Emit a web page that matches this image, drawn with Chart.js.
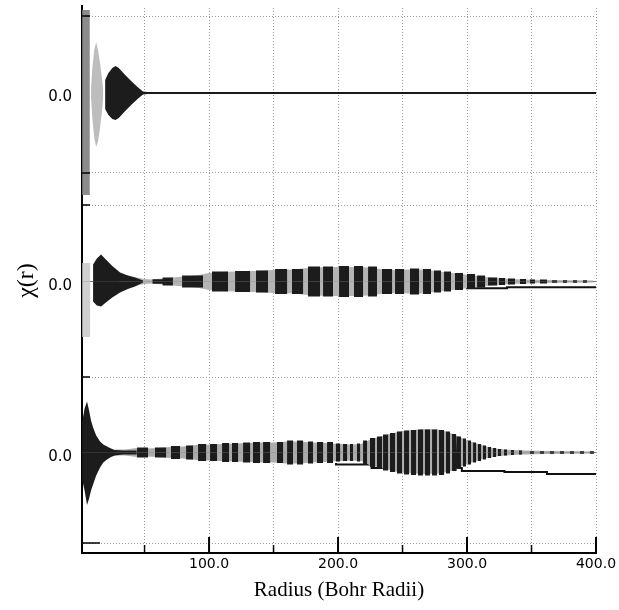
<!DOCTYPE html>
<html>
<head>
<meta charset="utf-8">
<script src="https://cdn.jsdelivr.net/npm/chart.js@4.4.1/dist/chart.umd.min.js"></script>
<style>
html,body{margin:0;padding:0;background:#fff;}
</style>
</head>
<body>
<canvas id="chi" width="619" height="610"></canvas>
<script>
// axis ticks
const xTickValues = [50, 100, 150, 200, 250, 300, 350, 400];
const xLabelValues = [100, 200, 300, 400];
const yGridValues = [1.0, 17.6, 34.8, 38.0, 53.7];
const yLabelValues = [9.6, 26.7, 45.6];

// zero level of each trace (stacked)
const traceOffsets = [46.0, 27.15, 10.05];

// ---- trace 1 (top) ----
const t1BandR = [1.6, 7.6];
const t1BandHi = [8.3, 8.3];
const t1BandLo = [-10.2, -10.2];
const t1LobeR = [8.5, 9.5, 11, 12.5, 14, 15.5, 17, 18];
const t1LobeHi = [0.5, 2.5, 4.3, 5.1, 4.2, 3.0, 1.5, 0.3];
const t1LobeLo = [-0.5, -2.5, -4.5, -5.4, -4.8, -3.5, -1.8, -0.3];
const t1BlobR = [19.4, 22, 25, 27.5, 30, 35, 40, 45, 48.8, 52];
const t1BlobHi = [1.3, 2.0, 2.5, 2.7, 2.5, 1.8, 1.15, 0.55, 0.15, 0.1];
const t1BlobLo = [-1.6, -2.2, -2.6, -2.7, -2.5, -1.8, -1.15, -0.55, -0.15, -0.1];
const t1BaseR = [48, 400];
const t1BaseV = [0, 0];

// ---- trace 2 (middle) ----
const t2BandR = [1.6, 8];
const t2BandHi = [1.85, 1.85];
const t2BandLo = [-5.55, -5.55];
const t2BlobR = [10.1, 13, 16.3, 20, 25, 31, 37, 42.6, 48.8];
const t2BlobHi = [1.7, 2.3, 2.7, 2.2, 1.55, 0.9, 0.6, 0.4, 0.1];
const t2BlobLo = [-2.0, -2.4, -2.5, -2.1, -1.6, -1.1, -0.75, -0.5, -0.1];
const t2EnvR = [30, 40, 50, 56, 64, 72, 80, 90, 100, 110, 120, 135, 150, 165, 180, 195, 210, 225, 235, 245, 255, 265, 275, 285, 295, 305, 315, 325, 335, 345, 360, 380, 398];
const t2EnvHi = [0.8, 0.5, 0.25, 0.2, 0.3, 0.4, 0.5, 0.6, 0.85, 0.95, 1.0, 1.05, 1.15, 1.2, 1.4, 1.45, 1.45, 1.4, 1.2, 1.15, 1.2, 1.2, 1.05, 0.9, 0.75, 0.6, 0.45, 0.32, 0.25, 0.2, 0.15, 0.12, 0.1];
const t2EnvLo = [-0.8, -0.5, -0.25, -0.2, -0.3, -0.4, -0.5, -0.6, -0.85, -0.95, -1.0, -1.05, -1.15, -1.2, -1.4, -1.45, -1.45, -1.4, -1.2, -1.15, -1.2, -1.2, -1.05, -0.9, -0.75, -0.6, -0.45, -0.32, -0.25, -0.2, -0.15, -0.12, -0.1];
const t2StripeFrom = [56, 64, 79.1, 102.3, 120.2, 136.4, 151.2, 164.3, 176.7, 188.4, 200.8, 212.4, 223.3, 234.1, 244.2, 255.8, 265.9, 274.4, 282.2, 290.7, 300.0, 307.8, 316.3, 324.8, 331.8, 341.1, 348.8, 356.6, 365.9, 374.4, 382.2, 389.9];
const t2StripeTo = [64, 72, 95.3, 114.7, 131.8, 145.7, 160.5, 172.9, 186.0, 196.1, 208.5, 219.4, 230.2, 241.9, 251.2, 262.8, 272.1, 279.8, 287.6, 296.9, 306.2, 314.0, 323.3, 329.5, 337.2, 345.7, 352.7, 362.0, 369.8, 377.5, 385.3, 393.0];
const t2StripeAmp = [0.22, 0.4, 0.6, 1.0, 1.05, 1.1, 1.25, 1.25, 1.5, 1.5, 1.55, 1.55, 1.5, 1.25, 1.25, 1.3, 1.25, 1.1, 1.0, 0.85, 0.75, 0.6, 0.4, 0.35, 0.3, 0.25, 0.2, 0.2, 0.12, 0.12, 0.12, 0.12];
const t2StepR = [300, 331, 394, 400];
const t2StepV = [-0.45, -0.68, -0.58, -0.58];

// ---- trace 3 (bottom) ----
const t3BlobR = [1.6, 3.5, 5.4, 7, 8.5, 10.1, 12.5, 15.5, 18, 20.9, 24, 27, 33, 44];
const t3BlobHi = [3.0, 4.4, 5.1, 4.2, 3.2, 2.5, 1.7, 1.1, 0.8, 0.6, 0.4, 0.25, 0.2, 0.2];
const t3BlobLo = [-2.7, -3.8, -5.25, -4.6, -3.8, -3.2, -2.3, -1.5, -1.0, -0.7, -0.45, -0.3, -0.2, -0.2];
const t3EnvR = [27, 35, 44, 52, 60, 70, 80, 90, 100, 110, 120, 130, 140, 150, 160, 170, 180, 190, 200, 210, 218, 225, 232, 240, 248, 258, 268, 278, 285, 290, 295, 300, 305, 310, 315, 320, 325, 335, 345, 360, 380, 398];
const t3EnvHi = [0.3, 0.3, 0.45, 0.4, 0.45, 0.55, 0.6, 0.75, 0.8, 0.85, 0.9, 0.95, 1.0, 1.0, 1.1, 1.1, 1.0, 0.95, 0.85, 0.8, 0.85, 1.3, 1.55, 1.85, 2.1, 2.25, 2.35, 2.3, 2.05, 1.8, 1.5, 1.2, 1.0, 0.8, 0.6, 0.45, 0.35, 0.25, 0.2, 0.15, 0.12, 0.1];
const t3EnvLo = [-0.3, -0.3, -0.45, -0.4, -0.45, -0.55, -0.6, -0.75, -0.8, -0.85, -0.9, -0.95, -1.0, -1.0, -1.1, -1.1, -1.0, -0.95, -0.85, -0.8, -0.85, -1.3, -1.5, -1.75, -2.0, -2.1, -2.15, -2.1, -1.95, -1.75, -1.45, -1.15, -0.95, -0.75, -0.55, -0.45, -0.35, -0.25, -0.2, -0.15, -0.12, -0.1];
const t3StripeFrom = [44.2, 58.1, 70.5, 82.2, 91.5, 100.8, 110.1, 117.8, 126.4, 134.1, 141.9, 152.7, 160.5, 168.2, 176.7, 183.7, 191.5, 198.4, 203.9, 209.3, 214.7, 219.4, 224.8, 230.2, 234.9, 240.3, 245.7, 251.2, 256.6, 262.0, 267.4, 272.9, 278.3, 283.7, 288.4, 292.2, 296.9, 300.8, 304.7, 308.5, 312.4, 316.3, 320.2, 324.0, 328.7, 334.1, 340.3, 348.8, 356.6, 364.3, 372.1, 379.8, 387.6, 395.3];
const t3StripeTo = [52.7, 66.7, 77.5, 87.6, 97.7, 106.2, 115.5, 122.5, 131.8, 139.5, 147.3, 157.4, 165.1, 172.9, 180.6, 188.4, 196.1, 201.6, 207.0, 211.6, 217.1, 222.5, 228.7, 234.1, 238.8, 244.2, 249.6, 255.0, 260.5, 265.9, 271.3, 276.7, 282.2, 286.8, 291.5, 295.3, 299.2, 303.1, 307.0, 310.9, 314.7, 318.6, 322.5, 326.4, 331.0, 336.4, 342.6, 351.9, 359.7, 367.4, 375.2, 382.9, 390.7, 398.4];
const t3StripeAmp = [0.5, 0.5, 0.65, 0.7, 0.85, 0.85, 0.95, 0.95, 1.0, 1.05, 1.05, 1.05, 1.2, 1.2, 1.1, 1.05, 1.05, 0.9, 0.85, 0.85, 0.9, 1.2, 1.45, 1.6, 1.8, 1.95, 2.1, 2.2, 2.25, 2.3, 2.3, 2.3, 2.25, 2.1, 1.85, 1.6, 1.4, 1.2, 1.0, 0.85, 0.7, 0.55, 0.45, 0.35, 0.3, 0.25, 0.2, 0.13, 0.12, 0.12, 0.12, 0.12, 0.12, 0.12];
const t3StepR = [198.4, 226, 296, 329, 362, 397, 400];
const t3StepV = [-1.05, -1.2, -1.55, -1.85, -1.95, -2.15, -2.15];

const DARK = '#1c1c1c';

function lobe(r, vals, off, color, order){
    return {
        data: r.map((x,i)=>({x:x, y:off+vals[i]})),
        fill: {value: off}, backgroundColor: color,
        borderColor: 'transparent', borderWidth: 0,
        pointRadius: 0, tension: 0, order: order
    };
}
function stripes(from, to, amp, off, sign, order){
    const pts = [];
    for(let i=0;i<from.length;i++){
        const top = off + sign*amp[i];
        pts.push({x:from[i],y:off},{x:from[i],y:top},{x:to[i],y:top},{x:to[i],y:off});
    }
    return {
        data: pts, fill: {value: off}, backgroundColor: DARK,
        borderColor: 'transparent', borderWidth: 0,
        pointRadius: 0, tension: 0, order: order
    };
}
function line(r, vals, off, color, width, order, stepped){
    return {
        data: r.map((x,i)=>({x:x, y:off+vals[i]})),
        fill: false, borderColor: color, borderWidth: width,
        pointRadius: 0, tension: 0, stepped: stepped || false, order: order
    };
}

const [o1, o2, o3] = traceOffsets;
const datasets = [
    // trace 1
    line(t1BaseR, t1BaseV, o1, '#1a1a1a', 2, 0),
    lobe(t1BlobR, t1BlobHi, o1, DARK, 1),
    lobe(t1BlobR, t1BlobLo, o1, DARK, 1),
    lobe(t1LobeR, t1LobeHi, o1, '#bdbdbd', 4),
    lobe(t1LobeR, t1LobeLo, o1, '#bdbdbd', 4),
    lobe(t1BandR, t1BandHi, o1, '#8c8c8c', 4),
    lobe(t1BandR, t1BandLo, o1, '#8c8c8c', 4),
    // trace 2
    lobe(t2BlobR, t2BlobHi, o2, DARK, 1),
    lobe(t2BlobR, t2BlobLo, o2, DARK, 1),
    stripes(t2StripeFrom, t2StripeTo, t2StripeAmp, o2, 1, 1),
    stripes(t2StripeFrom, t2StripeTo, t2StripeAmp, o2, -1, 1),
    lobe(t2EnvR, t2EnvHi, o2, '#b4b4b4', 4),
    lobe(t2EnvR, t2EnvLo, o2, '#b4b4b4', 4),
    lobe(t2BandR, t2BandHi, o2, '#d0d0d0', 4),
    lobe(t2BandR, t2BandLo, o2, '#d0d0d0', 4),
    line([1.6, 400], [0, 0], o2, '#777', 1, 6),
    line(t2StepR, t2StepV, o2, '#111', 2, 6, 'after'),
    // trace 3
    lobe(t3BlobR, t3BlobHi, o3, DARK, 1),
    lobe(t3BlobR, t3BlobLo, o3, DARK, 1),
    stripes(t3StripeFrom, t3StripeTo, t3StripeAmp, o3, 1, 1),
    stripes(t3StripeFrom, t3StripeTo, t3StripeAmp, o3, -1, 1),
    lobe(t3EnvR, t3EnvHi, o3, '#acacac', 4),
    lobe(t3EnvR, t3EnvLo, o3, '#acacac', 4),
    line([1.6, 400], [0, 0], o3, '#777', 1, 6),
    line(t3StepR, t3StepV, o3, '#111', 2, 6, 'after')
];

// short tick marks drawn inside the plot, like the original
const innerTicks = {
    id: 'innerTicks',
    afterDatasetsDraw(chart){
        const {ctx, chartArea, scales} = chart;
        ctx.save();
        ctx.strokeStyle = '#000';
        xTickValues.forEach(v=>{
            const px = scales.x.getPixelForValue(v);
            const len = xLabelValues.includes(v) ? 16 : 8;
            ctx.lineWidth = xLabelValues.includes(v) ? 2 : 1.5;
            ctx.beginPath();
            ctx.moveTo(px, chartArea.bottom);
            ctx.lineTo(px, chartArea.bottom - len);
            ctx.stroke();
        });
        ctx.lineWidth = 1.5;
        yGridValues.forEach(v=>{
            const py = scales.y.getPixelForValue(v);
            ctx.beginPath();
            ctx.moveTo(chartArea.left, py);
            ctx.lineTo(chartArea.left + (v === yGridValues[0] ? 18 : 8), py);
            ctx.stroke();
        });
        // axis line runs a little above the plot top
        ctx.lineWidth = 2;
        ctx.beginPath();
        ctx.moveTo(chartArea.left, chartArea.top);
        ctx.lineTo(chartArea.left, chartArea.top - 3);
        ctx.stroke();
        ctx.restore();
    }
};

new Chart(document.getElementById('chi'), {
    type: 'line',
    data: {datasets: datasets},
    options: {
        responsive: false,
        animation: false,
        events: [],
        layout: {padding: {top: 8, right: 23, bottom: 0, left: 0}},
        plugins: {legend: {display: false}, tooltip: {enabled: false}},
        scales: {
            x: {
                type: 'linear', min: 1.5, max: 400,
                afterFit: s => { s.height = 57; s.paddingLeft = 0; s.paddingRight = 0; },
                afterBuildTicks: s => { s.ticks = xTickValues.map(v=>({value:v})); },
                ticks: {
                    autoSkip: false, maxRotation: 0, padding: 3, color: '#000',
                    font: {family: 'DejaVu Sans', size: 14},
                    callback: v => xLabelValues.includes(v) ? v.toFixed(1) : ''
                },
                grid: {color: '#9a9a9a', lineWidth: 1, drawTicks: false},
                border: {display: true, color: '#000', width: 2, dash: [1, 2]},
                title: {
                    display: true, text: 'Radius (Bohr Radii)', color: '#000',
                    font: {family: 'Liberation Serif', size: 21},
                    padding: {top: 0, bottom: 7}
                }
            },
            y: {
                type: 'linear', min: 0, max: 54.5,
                afterFit: s => { s.width = 82; s.paddingTop = 0; s.paddingBottom = 0; },
                afterBuildTicks: s => {
                    s.ticks = yGridValues.concat(yLabelValues).sort((a,b)=>a-b).map(v=>({value:v}));
                },
                ticks: {
                    autoSkip: false, padding: 10, color: '#000',
                    font: {family: 'DejaVu Sans', size: 15},
                    callback: v => yLabelValues.includes(v) ? '0.0' : ''
                },
                grid: {
                    drawTicks: false, lineWidth: 1,
                    color: c => (c.tick && yLabelValues.includes(c.tick.value)) ? 'transparent' : '#9a9a9a'
                },
                border: {display: true, color: '#000', width: 2, dash: [1, 2]},
                title: {
                    display: true, text: 'χ(r)', color: '#000',
                    font: {family: 'Liberation Serif', size: 24},
                    padding: {top: 12, bottom: 0}
                }
            }
        }
    },
    plugins: [innerTicks]
});
</script>
</body>
</html>
